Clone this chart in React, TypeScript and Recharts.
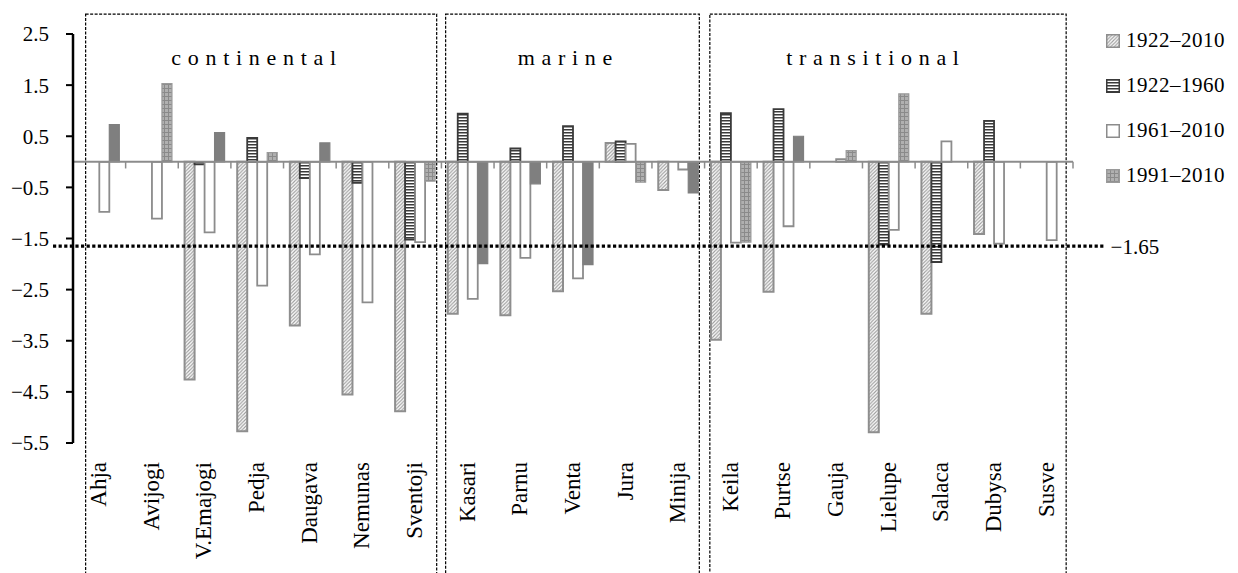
import React from 'react';
import {
  BarChart,
  Bar,
  XAxis,
  YAxis,
  ReferenceLine,
  ReferenceArea,
  ReferenceDot,
  Legend,
  Cell,
} from 'recharts';

// ---------------- data ----------------
const categories = [
  'Ahja', 'Avijogi', 'V.Emajogi', 'Pedja', 'Daugava', 'Nemunas', 'Sventoji',
  'Kasari', 'Parnu', 'Venta', 'Jura', 'Minija',
  'Keila', 'Purtse', 'Gauja', 'Lielupe', 'Salaca', 'Dubysa', 'Susve',
];

const v1922_2010 = [null, null, -4.26, -5.27, -3.2, -4.55, -4.88, -2.97, -3.0, -2.53, 0.37, -0.55, -3.48, -2.54, null, -5.29, -2.97, -1.41, null];
const v1922_1960 = [null, null, -0.05, 0.47, -0.32, -0.41, -1.52, 0.94, 0.26, 0.7, 0.4, null, 0.95, 1.03, null, -1.62, -1.96, 0.8, null];
const v1961_2010 = [-0.98, -1.11, -1.38, -2.42, -1.81, -2.75, -1.57, -2.68, -1.88, -2.28, 0.35, -0.15, -1.58, -1.26, 0.05, -1.33, 0.4, -1.6, -1.53];
const v1991_2010 = [0.73, 1.53, 0.57, 0.18, 0.37, null, -0.38, -1.99, -0.43, -2.01, -0.4, -0.61, -1.57, 0.5, 0.22, 1.33, null, null, null];
// 1991–2010 bars drawn solid (true) or with grid texture (false)
const solid1991 = [true, false, true, false, true, false, false, true, true, true, false, true, false, true, false, false, false, false, false];

const seriesLabels = ['1922–2010', '1922–1960', '1961–2010', '1991–2010'];
const yTicks = [-5.5, -4.5, -3.5, -2.5, -1.5, -0.5, 0.5, 1.5, 2.5];
const threshold = -1.65;
const groupNames = ['continental', 'marine', 'transitional'];

// ---------------- layout / style constants ----------------
const FONT = "'Liberation Serif', 'Times New Roman', serif";
const GROUP_BOXES = [
  [0.24, 6.91],
  [7.08, 11.9],
  [12.1, 18.87],
];
const GROUP_LABEL_X = [3.435, 9.348, 15.194];
const GROUP_LABEL_Y = 2.05;
const BOX_TOP = 2.89;
const BOX_BOTTOM = -8.4;
const LABEL_DROP = 19;

const table = categories.map((name, i) => ({
  name,
  idx: i + 0.5,
  p1922_2010: v1922_2010[i],
  p1922_1960: v1922_1960[i],
  p1961_2010: v1961_2010[i],
  p1991_2010: v1991_2010[i],
}));

const seriesStyle = [
  { fill: 'url(#hatch)', stroke: '#8e8e8e' },
  { fill: 'url(#hstripe)', stroke: '#3a3a3a' },
  { fill: '#ffffff', stroke: '#8c8c8c' },
  { fill: 'url(#grid)', stroke: '#9a9a9a' },
];

const fmt = (v: number) => (v < 0 ? '\u2212' + Math.abs(v).toFixed(1) : v.toFixed(1));

const CatTick = (props: any) => {
  const { x, y, payload } = props;
  const yy = y + LABEL_DROP;
  return (
    <text
      x={x}
      y={yy}
      transform={`rotate(-90 ${x} ${yy})`}
      textAnchor="end"
      dy="0.3em"
      fontSize={23}
      fontFamily={FONT}
      fill="#000"
    >
      {payload.value}
    </text>
  );
};

const GroupLabel = (text: string) => (props: any) => {
  const vb = props.viewBox || {};
  const cx = (vb.x ?? 0) + (vb.width ?? 0) / 2;
  const cy = (vb.y ?? 0) + (vb.height ?? 0) / 2;
  return (
    <text
      x={cx + 3.3}
      y={cy}
      dy="0.35em"
      textAnchor="middle"
      fontSize={22}
      fontFamily={FONT}
      letterSpacing={6.7}
      fill="#000"
    >
      {text}
    </text>
  );
};

const renderLegend = () => (
  <div style={{ fontFamily: FONT, fontSize: 21, color: '#000' }}>
    {seriesLabels.map((lab, i) => (
      <div key={lab} style={{ height: 45, display: 'flex', alignItems: 'center' }}>
        <svg width={14} height={14} style={{ marginRight: 6, flex: 'none' }}>
          <rect
            x={0.75}
            y={0.75}
            width={12.5}
            height={12.5}
            fill={seriesStyle[i].fill}
            stroke={seriesStyle[i].stroke}
            strokeWidth={1.5}
          />
        </svg>
        <span style={{ letterSpacing: 0.5, whiteSpace: 'nowrap' }}>{lab}</span>
      </div>
    ))}
  </div>
);

export default function App() {
  return (
    <div style={{ position: 'absolute', left: 0, top: 0, width: 1238, height: 573, background: '#fff' }}>
      <BarChart
        width={1238}
        height={573}
        data={table}
        margin={{ top: 34, right: 165, bottom: 100, left: 0 }}
        barCategoryGap="12%"
        barGap={0}
      >
        <defs>
          <pattern id="hatch" patternUnits="userSpaceOnUse" width={3.5} height={3.5}>
            <rect width={3.5} height={3.5} fill="#ffffff" />
            <path d="M-1,1 l2,-2 M0,3.5 l3.5,-3.5 M2.5,4.5 l2,-2" stroke="#9c9c9c" strokeWidth={1.1} />
          </pattern>
          <pattern id="hstripe" patternUnits="userSpaceOnUse" width={4} height={3}>
            <rect width={4} height={3} fill="#ffffff" />
            <rect width={4} height={1.5} fill="#3a3a3a" />
          </pattern>
          <pattern id="grid" patternUnits="userSpaceOnUse" width={4} height={4}>
            <rect width={4} height={4} fill="#b0b0b0" />
            <path d="M0,0.5 H4 M0.5,0 V4" stroke="#8a8a8a" strokeWidth={1} />
          </pattern>
        </defs>

        <XAxis
          xAxisId="cat"
          dataKey="name"
          height={30}
          axisLine={false}
          tickLine={false}
          tickSize={0}
          tickMargin={0}
          interval={0}
          tick={<CatTick />}
        />
        <XAxis xAxisId="num" type="number" dataKey="idx" domain={[0, 19]} allowDataOverflow hide />
        <YAxis
          domain={[-5.5, 2.5]}
          ticks={yTicks}
          interval={0}
          allowDataOverflow
          width={73}
          axisLine={{ stroke: '#000', strokeWidth: 2.5 }}
          tickLine={{ stroke: '#000', strokeWidth: 2 }}
          tickSize={7}
          tickMargin={17}
          tick={{ fill: '#000', fontSize: 21, fontFamily: FONT }}
          tickFormatter={fmt}
        />

        {GROUP_BOXES.map(([a, b], i) => (
          <ReferenceArea
            key={'box' + i}
            xAxisId="num"
            x1={a}
            x2={b}
            y1={BOX_BOTTOM}
            y2={BOX_TOP}
            fill="none"
            fillOpacity={0}
            stroke="#000"
            strokeWidth={1.2}
            strokeDasharray="3 1.5"
            ifOverflow="visible"
          />
        ))}

        {groupNames.map((g, i) => (
          <ReferenceDot
            key={'gl' + i}
            xAxisId="num"
            x={GROUP_LABEL_X[i]}
            y={GROUP_LABEL_Y}
            r={1}
            fill="none"
            stroke="none"
            label={GroupLabel(g)}
          />
        ))}

        <Bar xAxisId="cat" dataKey="p1922_2010" name={seriesLabels[0]} fill={seriesStyle[0].fill} stroke={seriesStyle[0].stroke} strokeWidth={2} isAnimationActive={false} />
        <Bar xAxisId="cat" dataKey="p1922_1960" name={seriesLabels[1]} fill={seriesStyle[1].fill} stroke={seriesStyle[1].stroke} strokeWidth={1.8} isAnimationActive={false} />
        <Bar xAxisId="cat" dataKey="p1961_2010" name={seriesLabels[2]} fill={seriesStyle[2].fill} stroke={seriesStyle[2].stroke} strokeWidth={1.8} isAnimationActive={false} />
        <Bar xAxisId="cat" dataKey="p1991_2010" name={seriesLabels[3]} fill={seriesStyle[3].fill} stroke={seriesStyle[3].stroke} strokeWidth={1.2} isAnimationActive={false}>
          {table.map((d, i) => (
            <Cell
              key={d.name}
              fill={solid1991[i] ? '#7f7f7f' : 'url(#grid)'}
              stroke={solid1991[i] ? '#7f7f7f' : '#9a9a9a'}
            />
          ))}
        </Bar>

        <ReferenceLine xAxisId="cat" y={0} stroke="#8c8c8c" strokeWidth={2} />
        {categories.concat(['']).map((_, i) => (
          <ReferenceLine
            key={'zt' + i}
            xAxisId="num"
            segment={[{ x: i, y: 0 }, { x: i, y: -0.13 }]}
            stroke="#8c8c8c"
            strokeWidth={1.5}
            ifOverflow="visible"
          />
        ))}

        <ReferenceLine
          xAxisId="num"
          segment={[{ x: -0.38, y: threshold }, { x: 19.6, y: threshold }]}
          stroke="#000"
          strokeWidth={3.2}
          strokeDasharray="3.2 2.4"
          ifOverflow="visible"
          label={{ value: '\u22121.65', position: 'right', offset: 6, fill: '#000', fontSize: 21, fontFamily: FONT }}
        />

        <Legend
          layout="vertical"
          align="center"
          verticalAlign="middle"
          wrapperStyle={{ position: 'absolute', left: 1106, top: 18, width: 132, height: 180 }}
          content={renderLegend}
        />
      </BarChart>
    </div>
  );
}
